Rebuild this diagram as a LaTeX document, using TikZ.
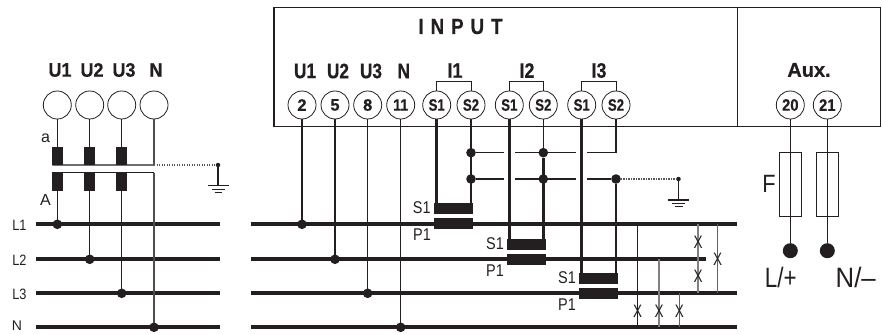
\documentclass[tikz,border=0pt]{standalone}
\usepackage{fontspec}
\setmainfont[BoldFeatures={FakeBold=0.5}]{Liberation Sans}
\definecolor{ink}{HTML}{231F20}
\definecolor{wiregrey}{HTML}{808080}
\newcommand{\fs}[1]{\fontsize{#1}{#1}\selectfont}
\newcommand{\nx}[2]{\scalebox{#1}[1]{#2}}
\tikzset{
  every node/.style={text=ink,inner sep=0pt,outer sep=0pt},
  term/.style={circle,draw=ink,line width=0.8pt,fill=white,minimum size=28pt,font=\bfseries\fs{16.5}},
  headl/.style={font=\bfseries\fs{19.5}},
  headm/.style={font=\bfseries\fs{21}},
  small/.style={font=\fs{15}},
  tag/.style={font=\fs{17}},
  coilv/.style={fill=ink,minimum width=10.7pt},
  coilh/.style={fill=ink,minimum width=38.7pt,minimum height=10.6pt},
  jdot/.style={circle,fill=ink,minimum size=9.6pt},
  tinydot/.style={circle,fill=ink,minimum size=4.5pt},
  bigdot/.style={circle,fill=ink,minimum size=15pt},
  bus/.style={draw=ink,line width=3.7pt},
  thin/.style={draw=ink,line width=1.1pt},
  thick/.style={draw=ink,line width=2.6pt},
  mid/.style={draw=ink,line width=1.9pt},
  greyw/.style={draw=wiregrey,line width=1.2pt},
  dots/.style={draw=ink!75,line width=1.1pt,dash pattern=on 1.4pt off 1.1pt},
  xmark/.style={font=\fs{18}},
  boxl/.style={draw=ink,line width=1.1pt},
  ground/.style={draw=ink,line width=1.3pt},
}
\newcommand{\xm}{\scalebox{0.75}[1]{X}}
\begin{document}
\begin{tikzpicture}[x=1pt,y=-1pt]
\useasboundingbox (0,0) rectangle (882,334);
% ---- left group
\foreach \n/\yy in {L1/224.3,L2/259.3,L3/293.3,N/327.3}{
  \coordinate (a\n) at (36,\yy);
  \coordinate (b\n) at (220,\yy);
  \draw[bus] (a\n) -- (b\n);
}
\node[small] at (19.5,225.3) {\nx{0.85}{L1}};
\node[small] at (19.5,260) {\nx{0.85}{L2}};
\node[small] at (19.5,294) {\nx{0.85}{L3}};
\node[font=\fs{14}] at (17,326) {N};
\node[font=\fs{16}] at (45.5,138) {a};
\node[font=\fs{16}] at (45.5,199.5) {A};
\node[headl] at (60,70) {\nx{0.92}{U1}};
\node[headl] at (92,70) {\nx{0.92}{U2}};
\node[headl] at (124,70) {\nx{0.92}{U3}};
\node[headl] at (156,70) {\nx{0.92}{N}};
\node[term] (mU1) at (57.3,105) {};
\node[term] (mU2) at (89.7,105) {};
\node[term] (mU3) at (121.7,105) {};
\node[term] (mN) at (154,105) {};
\node[jdot] (dL1) at (57.3,224.3) {};
\node[jdot] (dL2) at (89.7,259.3) {};
\node[jdot] (dL3) at (121.7,293.3) {};
\node[jdot] (dN) at (154,327.3) {};
\node[coilv,minimum height=17.7pt] (ca1) at (57.6,156.2) {};
\node[coilv,minimum height=17.7pt] (ca2) at (89.7,156.2) {};
\node[coilv,minimum height=17.7pt] (ca3) at (121.7,156.2) {};
\node[coilv,minimum height=18pt] (cA1) at (57.6,181.7) {};
\node[coilv,minimum height=18pt] (cA2) at (89.7,181.7) {};
\node[coilv,minimum height=18pt] (cA3) at (121.7,181.7) {};
\draw[thin] (mU1.south) -- (mU1.south |- ca1.north);
\draw[thin] (mU2.south) -- (mU2.south |- ca2.north);
\draw[thin] (mU3.south) -- (mU3.south |- ca3.north);
\draw[thin] (mU1.south |- cA1.south) -- (dL1);
\draw[thin] (mU2.south |- cA2.south) -- (dL2);
\draw[thin] (mU3.south |- cA3.south) -- (dL3);
\coordinate (nUp) at (154,165);
\coordinate (nLow) at (154,172.7);
\draw[thin] (ca1.south west) -- (nUp);
\draw[thin] (cA1.north west) -- (nLow);
\draw[thin,draw=ink!80] (mN.south) -- (nUp);
\draw[thin,draw=ink!80] (nLow) -- (dN);
\node[tinydot] (gl) at (218,165) {};
\draw[dots] (nUp) -- (gl);
\coordinate (glb) at (218,185.7);
\draw[ground] (gl) -- (glb);
\draw[ground] ([xshift=-10.5pt]glb) -- ([xshift=10.5pt]glb);
\draw[ground] ([xshift=-6.5pt,yshift=-3.6pt]glb) -- ([xshift=6.5pt,yshift=-3.6pt]glb);
\draw[ground] ([xshift=-3.5pt,yshift=-7pt]glb) -- ([xshift=3.5pt,yshift=-7pt]glb);
% ---- box
\coordinate (bTL) at (274,7.7);
\coordinate (bTM) at (737.3,7.7);
\coordinate (bBM) at (737.3,126.7);
\coordinate (bBR) at (880.4,126.7);
\draw[boxl] (bTL) rectangle (bBR);
\draw[boxl] (bTM) -- (bBM);
\node[font=\bfseries\fs{22}] at (460.5,26.5) {\nx{0.85}{I\kern8.2pt N\kern8.2pt P\kern8.2pt U\kern8.2pt T}};
\node[headm] at (305,71) {\nx{0.82}{U1}};
\node[headm] at (338,71) {\nx{0.82}{U2}};
\node[headm] at (371,71) {\nx{0.82}{U3}};
\node[headm] at (403.7,71) {\nx{0.82}{N}};
\node[headm] at (455,70.5) {\nx{0.85}{I1}};
\node[headm] at (527,70.5) {\nx{0.85}{I2}};
\node[headm] at (599,70.5) {\nx{0.85}{I3}};
\node[font=\bfseries\fs{20}] at (809,70) {Aux.};
% ---- buses on the right
\foreach \n/\yy/\xe in {A/224.3/737,B/259.3/706,C/293.3/737,D/327.3/737}{
  \coordinate (s\n) at (251,\yy);
  \coordinate (e\n) at (\xe,\yy);
  \draw[bus] (s\n) -- (e\n);
}
% ---- terminals
\node[term] (t2) at (302,105) {2};
\node[term] (t5) at (335,105) {5};
\node[term] (t8) at (367.7,105) {8};
\node[term] (t11) at (400.7,105) {\nx{0.85}{11}};
\node[term] (i1a) at (436.7,105) {\nx{0.8}{S1}};
\node[term] (i1b) at (471,105) {\nx{0.8}{S2}};
\node[term] (i2a) at (509.3,105) {\nx{0.8}{S1}};
\node[term] (i2b) at (543.3,105) {\nx{0.8}{S2}};
\node[term] (i3a) at (581.7,105) {\nx{0.8}{S1}};
\node[term] (i3b) at (616,105) {\nx{0.8}{S2}};
\node[term] (t20) at (790.3,105) {\nx{0.9}{20}};
\node[term] (t21) at (827.3,105) {\nx{0.9}{21}};
% brackets
\draw[draw=ink,line width=0.9pt] (i1a.north) -- ++(0,-9.7) -| (i1b.north);
\draw[draw=ink,line width=0.9pt] (i2a.north) -- ++(0,-9.7) -| (i2b.north);
\draw[draw=ink,line width=0.9pt] (i3a.north) -- ++(0,-9.7) -| (i3b.north);
% voltage
\node[jdot] (d2) at (302,224.3) {};
\node[jdot] (d5) at (335,259.3) {};
\node[jdot] (d8) at (367.7,293.3) {};
\node[jdot] (d11) at (400.7,327.3) {};
\draw[thin] (t2) -- (d2);
\draw[thin] (t5) -- (d5);
\draw[thin] (t8) -- (d8);
\draw[thin] (t11) -- (d11);
% CT
\node[coilh] (c1s) at (453.4,208.5) {};
\node[coilh] (c1p) at (453.4,223.5) {};
\node[coilh] (c2s) at (526.5,244.5) {};
\node[coilh] (c2p) at (526.5,259.3) {};
\node[coilh] (c3s) at (598.5,278.7) {};
\node[coilh] (c3p) at (598.5,293.3) {};
\node[tag] at (421.7,208) {\nx{0.85}{S1}};
\node[tag] at (422,235) {\nx{0.85}{P1}};
\node[tag] at (495,243.7) {\nx{0.85}{S1}};
\node[tag] at (495,271) {\nx{0.85}{P1}};
\node[tag] at (567,278) {\nx{0.85}{S1}};
\node[tag] at (567,305) {\nx{0.85}{P1}};
% common rails
\node[jdot] (j1u) at (471,152.7) {};
\node[jdot] (j1d) at (471,179) {};
\node[jdot] (j2u) at (543.3,152.7) {};
\node[jdot] (j2d) at (543.3,179) {};
\node[jdot] (j3d) at (616,179) {};
\coordinate (j3u) at (616,152.7);
\coordinate (g1l) at (504,152.7); \coordinate (g1r) at (515,152.7);
\coordinate (g2l) at (576,152.7); \coordinate (g2r) at (587,152.7);
\coordinate (g3l) at (504,179); \coordinate (g3r) at (515,179);
\coordinate (g4l) at (576,179); \coordinate (g4r) at (587,179);
\draw[thin] (j1u) -- (g1l);
\draw[thin] (g1r) -- (j2u) -- (g2l);
\draw[thin] (g2r) -- (j3u) -- (i3b.south);
\draw[mid] (j1d) -- (g3l);
\draw[mid] (g3r) -- (j2d) -- (g4l);
\draw[mid] (g4r) -- (j3d);
\draw[thick] (i1a.south) -- (i1a.south |- c1s.north);
\draw[thick] (i1b.south) -- (i1b.south |- c1s.north);
\draw[thick] (i2a.south) -- (i2a.south |- c2s.north);
\draw[thin] (i2b.south) -- (j2u);
\draw[thick] (j2u) -- (j2u |- c2s.north);
\draw[thick] (i3a.south) -- (i3a.south |- c3s.north);
\draw[thick] (j3d) -- (j3d |- c3s.north);
% ground right
\node[tinydot] (gr) at (678.5,179) {};
\draw[dots] (j3d) -- (gr);
\coordinate (grb) at (678.5,200);
\draw[ground] (gr) -- (grb);
\draw[ground] ([xshift=-10.5pt]grb) -- ([xshift=10.5pt]grb);
\draw[ground] ([xshift=-6.5pt,yshift=-3.4pt]grb) -- ([xshift=6.5pt,yshift=-3.4pt]grb);
\draw[ground] ([xshift=-4pt,yshift=-6.4pt]grb) -- ([xshift=4pt,yshift=-6.4pt]grb);
% tie wires with X marks
\coordinate (w1a) at (637.7,224.3); \coordinate (w1b) at (637.7,327.3);
\coordinate (w2a) at (659,259.3);   \coordinate (w2b) at (659,327.3);
\coordinate (w3a) at (679.3,293.3); \coordinate (w3b) at (679.3,327.3);
\coordinate (w4a) at (698,224.3);   \coordinate (w4b) at (698,293.3);
\coordinate (w5a) at (717.7,224.3); \coordinate (w5b) at (717.7,293.3);
\draw[thin] (w1a) -- (w1b);
\draw[greyw] (w2a) -- (w2b);
\draw[thin,draw=ink!70] (w3a) -- (w3b);
\draw[greyw] (w4a) -- (w4b);
\draw[thin,draw=ink!70] (w5a) -- (w5b);
\node[xmark] at (637.7,311.5) {\xm};
\node[xmark] at (659,311.5) {\xm};
\node[xmark] at (679.3,311.5) {\xm};
\node[xmark] at (698,242) {\xm};
\node[xmark] at (698,276.7) {\xm};
\node[xmark] at (717.7,259.7) {\xm};
% fuses
\node[draw=ink,line width=1.1pt,minimum width=22pt,minimum height=64pt] (f1) at (790.3,184.7) {};
\node[draw=ink,line width=1.1pt,minimum width=22pt,minimum height=64pt] (f2) at (827.8,184.7) {};
\node[bigdot] (dLp) at (790.3,250.7) {};
\node[bigdot] (dNm) at (827.3,250.7) {};
\draw[thin] (t20) -- (dLp);
\draw[thin] (t21) -- (dNm);
\node[font=\fs{25}] at (769,184) {\nx{0.87}{F}};
\node[font=\fs{28}] at (780.7,277.5) {\nx{0.8}{L/+}};
\node[font=\fs{28}] at (855.7,277.5) {\nx{0.92}{N/--}};
\end{tikzpicture}
\end{document}
